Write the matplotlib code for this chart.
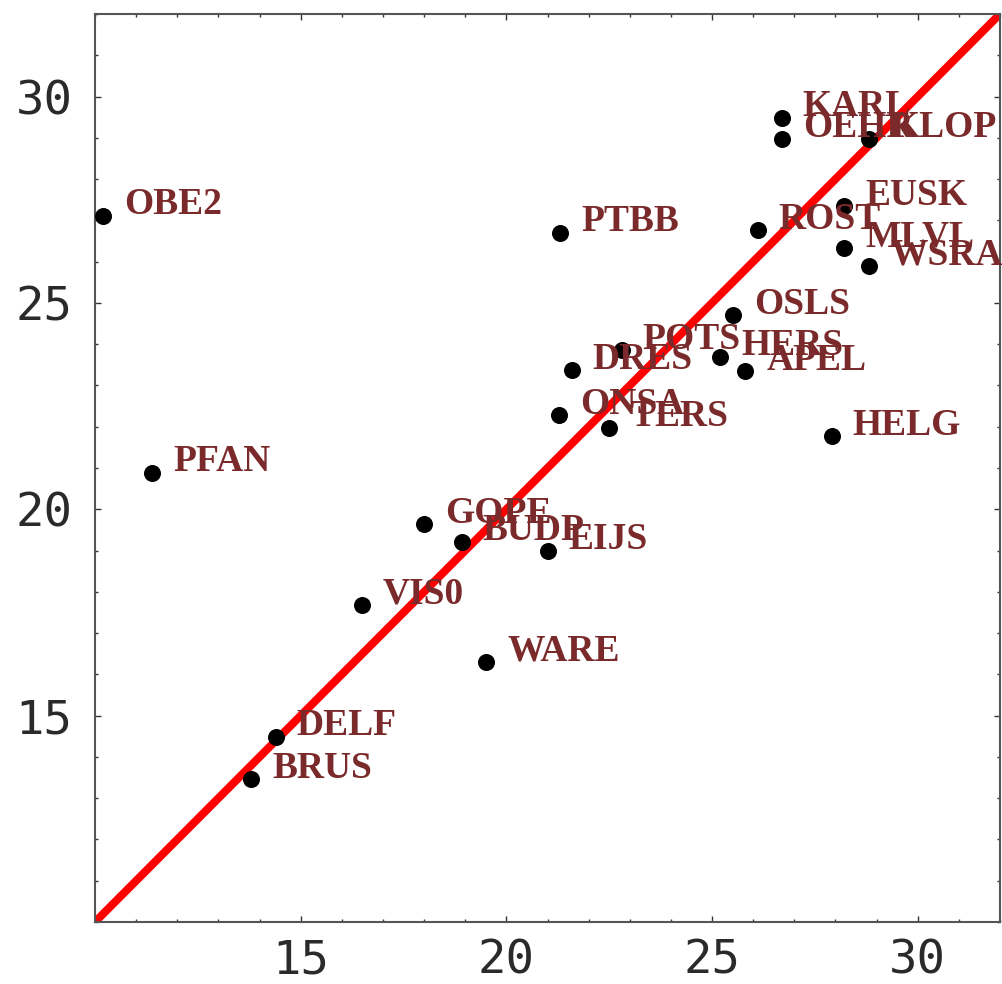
import numpy as np
import matplotlib
matplotlib.use("Agg")
import matplotlib.pyplot as plt
from matplotlib.ticker import MultipleLocator

# station names and the two values for each
stations = ["OBE2", "PFAN", "KARL", "OEHR", "KLOP", "EUSK", "ROST", "MLVL",
            "WSRA", "PTBB", "OSLS", "POTS", "HERS", "DRES", "APEL", "ONSA",
            "TERS", "HELG", "GOPE", "BUDP", "EIJS", "VIS0", "WARE", "DELF",
            "BRUS"]
x_vals = [10.19, 11.39, 26.70, 26.70, 28.82, 28.21, 26.11, 28.21,
          28.82, 21.31, 25.51, 22.80, 25.20, 21.59, 25.81, 21.29,
          22.50, 27.91, 18.00, 18.91, 21.00, 16.49, 19.51, 14.39,
          13.80]
y_vals = [27.11, 20.89, 29.48, 28.98, 28.98, 27.34, 26.76, 26.33,
          25.89, 26.70, 24.70, 23.85, 23.69, 23.37, 23.34, 22.28,
          21.97, 21.77, 19.64, 19.21, 18.99, 17.68, 16.30, 14.49,
          13.46]

lo, hi = 10, 32
ticks = [15, 20, 25, 30]

fig = plt.figure(figsize=(10.02, 9.84), dpi=100)
ax = fig.add_axes([95 / 1002, 62 / 984, 905 / 1002, 908 / 984])

# 1:1 line
line = np.array([lo, hi])
ax.plot(line, line, color="#ff0000", lw=5.8, solid_capstyle="butt", zorder=2)

ax.scatter(x_vals, y_vals, s=150, color="black", zorder=3, linewidths=0)

for name, xv, yv in zip(stations, x_vals, y_vals):
    ax.annotate(name, (xv, yv), xytext=(15, 8), textcoords="offset points",
                ha="left", va="center", fontsize=27, fontweight="bold",
                family="Liberation Serif", color="#7a2a2a", zorder=4)

ax.set_xlim(lo, hi)
ax.set_ylim(lo, hi)
ax.set_xticks(ticks)
ax.set_yticks(ticks)
ax.xaxis.set_minor_locator(MultipleLocator(1))
ax.yaxis.set_minor_locator(MultipleLocator(1))
ax.tick_params(which="both", direction="in", top=True, right=True,
               color="#333333", width=1.0)
ax.tick_params(which="major", length=4.5)
ax.tick_params(which="minor", length=2.5)
ax.tick_params(axis="x", pad=12)
ax.tick_params(axis="y", pad=16)
for lab in ax.get_xticklabels() + ax.get_yticklabels():
    lab.set_family("DejaVu Sans Mono")
    lab.set_fontsize(34)
    lab.set_color("#2a2a2a")
for sp in ax.spines.values():
    sp.set_color("#555555")
    sp.set_linewidth(1.5)

fig.savefig("out.png", dpi=100)
